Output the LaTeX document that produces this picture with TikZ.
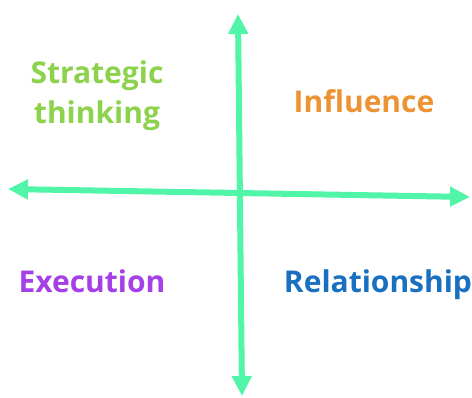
\documentclass[tikz,border=0pt]{standalone}
\usepackage{fontspec}
\setmainfont{Open Sans}
\usetikzlibrary{arrows.meta}
\definecolor{axisgreen}{HTML}{50F5A8}
\definecolor{stratgreen}{HTML}{8CD24C}
\definecolor{inflorange}{HTML}{EC9434}
\definecolor{execpurple}{HTML}{A53FE6}
\definecolor{relblue}{HTML}{1A70C0}
\begin{document}
\begin{tikzpicture}[x=1pt, y=-1pt,
  axis/.style={line width=6pt, axisgreen,
    {Triangle[length=20pt,width=19pt]}-{Triangle[length=20pt,width=19pt]}},
  quad/.style={font=\fontsize{30}{40}\selectfont\bfseries, anchor=base, align=center, inner sep=0pt}]
\useasboundingbox (0,0) rectangle (472,397);
% axes
\coordinate (W) at (8,189);
\coordinate (E) at (470,197);
\coordinate (N) at (238,14);
\coordinate (S) at (242,396);
\draw[axis] (W) -- (E);
\draw[axis] (S) -- (N);
% quadrants
\node[quad, text=stratgreen] (strat) at (97,123) {Strategic\\thinking};
\node[quad, text=inflorange] (infl) at (364,112) {Influence};
\node[quad, text=execpurple] (exec) at (92,292) {Execution};
\node[quad, text=relblue] (rel) at (378,292) {Relationship};
\end{tikzpicture}
\end{document}
